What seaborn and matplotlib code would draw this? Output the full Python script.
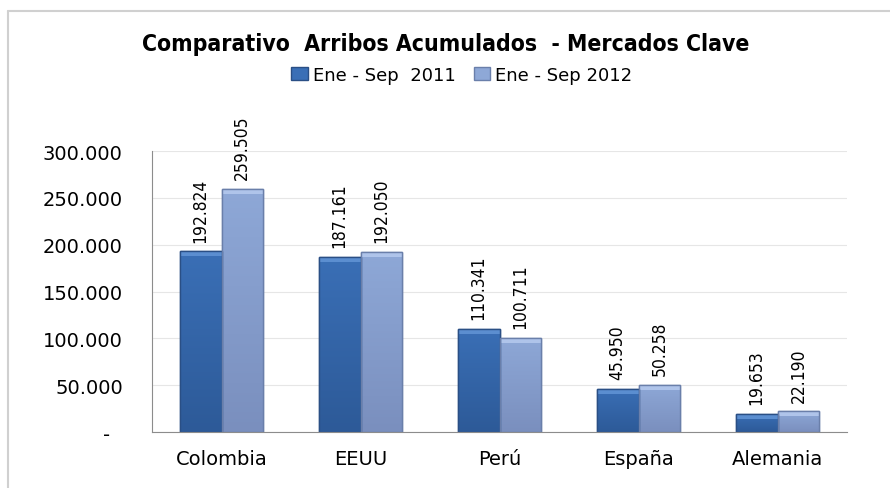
import matplotlib
matplotlib.use("Agg")
import matplotlib.pyplot as plt
from matplotlib.colors import LinearSegmentedColormap
from matplotlib.lines import Line2D
from matplotlib.patches import Patch, Rectangle
import numpy as np
import pandas as pd
import seaborn as sns

# Data
countries = ["Colombia", "EEUU", "Perú", "España", "Alemania"]
series_names = ["Ene - Sep  2011", "Ene - Sep 2012"]
arribos_2011 = [192824, 187161, 110341, 45950, 19653]
arribos_2012 = [259505, 192050, 100711, 50258, 22190]
y_ticks = [0, 50000, 100000, 150000, 200000, 250000, 300000]

COLORS = ["#3A6FB6", "#8EA8D7"]
BOTTOMS = ["#2D5A98", "#7A8FBE"]   # gradient end colour at bar foot
TOPS = ["#5B8ED0", "#AFC4EA"]      # bevel strip at bar top
EDGES = ["#2A4F85", "#6A7FAA"]


def thousands(v):
    # accounting style: zero shown as a dash
    return "-  " if v == 0 else f"{v:,.0f}".replace(",", ".")


df = pd.DataFrame({
    "country": countries * 2,
    "serie": [series_names[0]] * len(countries) + [series_names[1]] * len(countries),
    "arribos": arribos_2011 + arribos_2012,
})

sns.set_style("white")
plt.rcParams["font.family"] = ["DejaVu Sans"]
plt.rcParams["text.color"] = "black"
plt.rcParams["xtick.color"] = "black"
plt.rcParams["ytick.color"] = "black"

fig = plt.figure(figsize=(8.9, 4.89), dpi=100)
ax = fig.add_axes([0.1708, 0.1145, 0.781, 0.5746])

sns.barplot(data=df, x="country", y="arribos", hue="serie", order=countries,
            hue_order=series_names, palette=COLORS, width=0.6, ax=ax,
            legend=False, saturation=1)

ax.set_ylim(0, 300000)
xlim = ax.get_xlim()
bevel = 300000 / 281 * 5   # about 5 px in data units

# gradient fill + bevel strip on each bar
grad = np.linspace(0, 1, 256).reshape(-1, 1)
for i, cont in enumerate(ax.containers):
    cmap = LinearSegmentedColormap.from_list(f"g{i}", [COLORS[i], BOTTOMS[i]])
    for bar in cont:
        x, w, h = bar.get_x(), bar.get_width(), bar.get_height()
        bar.set_edgecolor(EDGES[i])
        bar.set_linewidth(1.0)
        im = ax.imshow(grad, extent=[x, x + w, 0, h], aspect="auto", cmap=cmap,
                       origin="upper", zorder=bar.get_zorder() + 0.1)
        im.set_clip_path(bar)
        ax.add_patch(Rectangle((x, h - bevel), w, bevel, facecolor=TOPS[i],
                               edgecolor="none", zorder=bar.get_zorder() + 0.2))
        ax.add_patch(Rectangle((x, 0), w, h, facecolor="none", edgecolor=EDGES[i],
                               linewidth=1.0, zorder=bar.get_zorder() + 0.3))
    ax.bar_label(cont, labels=[thousands(b.get_height()) for b in cont],
                 rotation=90, padding=7, fontsize=12.5, fontstretch="condensed")

ax.set_xlim(xlim)
ax.set_ylim(0, 300000)
ax.set_yticks(y_ticks)
ax.set_yticklabels([thousands(v) for v in y_ticks], fontsize=14)
ax.tick_params(axis="x", labelsize=14, length=0, pad=12)
ax.tick_params(axis="y", length=0, pad=21)
ax.set_xlabel("")
ax.set_ylabel("")
ax.yaxis.grid(True, color="#E6E6E6", linewidth=0.8)
ax.set_axisbelow(True)
for side in ["top", "right"]:
    ax.spines[side].set_visible(False)
for side in ["left", "bottom"]:
    ax.spines[side].set_color("#8C8C8C")
    ax.spines[side].set_linewidth(0.8)

fig.text(0.501, 0.908, "Comparativo  Arribos Acumulados  - Mercados Clave",
         ha="center", va="center", fontsize=16.5, fontweight="bold",
         fontstretch="condensed")

handles = [Patch(facecolor=c, edgecolor=e) for c, e in zip(COLORS, EDGES)]
fig.legend(handles, series_names, loc="center", bbox_to_anchor=(0.519, 0.845),
           ncol=2, frameon=False, prop={"size": 13},
           handlelength=0.9, handleheight=0.7, handletextpad=0.3, columnspacing=1.0)

# outer chart frame
fig.add_artist(Line2D([0.009, 0.009], [0, 0.976], color="#D0D0D0", linewidth=1.5,
                      transform=fig.transFigure))
fig.add_artist(Line2D([0.009, 1.0], [0.976, 0.976], color="#D0D0D0", linewidth=1.5,
                      transform=fig.transFigure))

fig.savefig("out.png", dpi=100)
plt.close()
